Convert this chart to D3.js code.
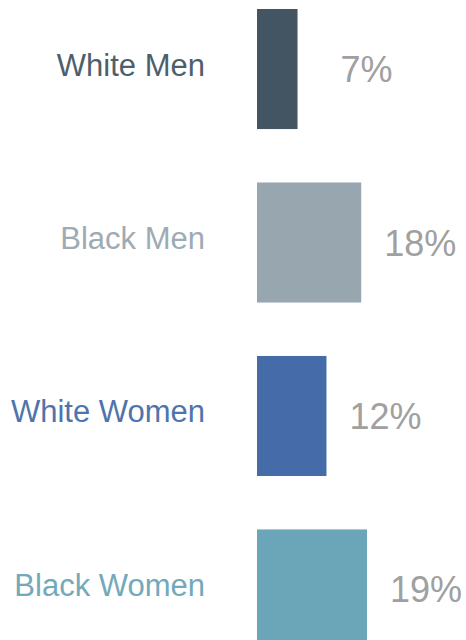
<!DOCTYPE html>
<html>
<head>
<meta charset="utf-8">
<script src="https://cdn.jsdelivr.net/npm/d3@7"></script>
<style>
  html, body { margin: 0; padding: 0; background: #ffffff; }
  svg { display: block; }
</style>
</head>
<body>
<svg id="chart" width="466" height="640"></svg>
<script>
const categories = ["White Men", "Black Men", "White Women", "Black Women"];
const values = [7, 18, 12, 19];
const colors = ["#435563", "#98a6b0", "#456ca9", "#6aa5b8"];
const textColors = ["#4d5f6d", "#9eabb4", "#4f74ad", "#72a9bb"];
const valueLabels = ["7%", "18%", "12%", "19%"];

const svg = d3.select("#chart");
const font = "'Liberation Sans', Arial, Helvetica, sans-serif";

const x = d3.scaleLinear().domain([0, 19]).range([257, 367]);
const y = d3.scaleBand().domain(categories).range([9, 649.5]).paddingInner(0.308).paddingOuter(0);

const data = categories.map((c, i) => ({ cat: c, v: values[i], color: colors[i], tcolor: textColors[i], label: valueLabels[i] }));

const g = svg.append("g");

g.selectAll("rect.bar").data(data).join("rect")
  .attr("class", "bar")
  .attr("x", x(0))
  .attr("y", d => y(d.cat))
  .attr("width", d => x(d.v) - x(0))
  .attr("height", y.bandwidth())
  .attr("fill", d => d.color);

g.selectAll("text.cat").data(data).join("text")
  .attr("class", "cat")
  .attr("x", 205)
  .attr("y", d => y(d.cat) + y.bandwidth() / 2 + 6.5)
  .attr("text-anchor", "end")
  .attr("font-family", font)
  .attr("font-size", 31)
  .attr("fill", d => d.tcolor)
  .text(d => d.cat);

g.selectAll("text.val").data(data).join("text")
  .attr("class", "val")
  .attr("x", d => x(d.v) + 95)
  .attr("y", d => y(d.cat) + y.bandwidth() / 2 + 13)
  .attr("text-anchor", "end")
  .attr("font-family", font)
  .attr("font-size", 36)
  .attr("fill", "#a0a0a0")
  .text(d => d.label);
</script>
</body>
</html>
